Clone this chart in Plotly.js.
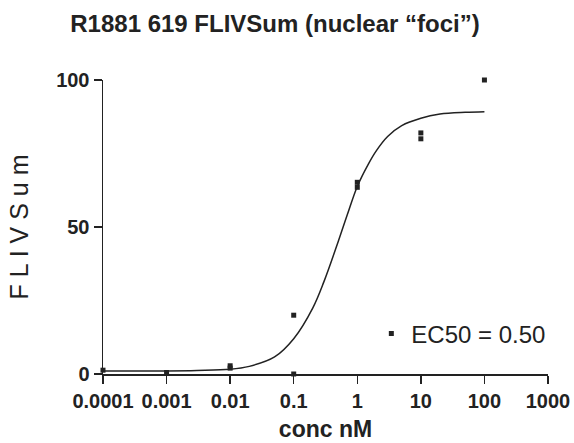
<!DOCTYPE html>
<html>
<head>
<meta charset="utf-8">
<script src="https://cdn.plot.ly/plotly-3.0.1.min.js"></script>
<style>html,body{margin:0;padding:0;background:#fff;}#chart{width:574px;height:443px;}</style>
</head>
<body>
<div id="chart"></div>
<script>
// measured data points
const concX = [0.0001, 0.001, 0.01, 0.01, 0.1, 0.1, 1, 1, 10, 10, 100];
const fliv  = [1.3, 0.5, 2.0, 2.8, 20, 0, 65.2, 63.5, 82, 80, 100];
// fitted curve
const curveX = [0.0001, 0.001, 0.003, 0.01, 0.02, 0.05, 0.1, 0.2, 0.3, 0.5, 0.7, 1, 1.5, 2, 3, 5, 10, 20, 50, 100];
const curveY = [1.0, 1.05, 1.2, 1.6, 2.6, 5.8, 12, 22.5, 31.5, 45, 54.3, 63.8, 71.5, 76, 80.8, 84.5, 87, 88.4, 89, 89.2];
const xTickVals = [0.0001, 0.001, 0.01, 0.1, 1, 10, 100, 1000];
const xTickText = ['0.0001', '0.001', '0.01', '0.1', '1', '10', '100', '1000'];
const yTickVals = [0, 50, 100];
const seriesName = 'EC50 = 0.50';

const ink = '#222';
const font = 'Liberation Sans, Arial, Helvetica, sans-serif';

const traces = [
  {
    x: curveX, y: curveY, type: 'scatter', mode: 'lines',
    line: {color: ink, width: 1.5, shape: 'spline', smoothing: 1},
    showlegend: false, hoverinfo: 'skip', cliponaxis: false
  },
  {
    x: concX, y: fliv, type: 'scatter', mode: 'markers',
    marker: {symbol: 'square', size: 5, color: ink},
    name: seriesName, cliponaxis: false
  }
];

const layout = {
  width: 574, height: 443,
  margin: {l: 103, r: 26, t: 80, b: 69},
  paper_bgcolor: '#fff', plot_bgcolor: '#fff',
  font: {family: font, color: ink},
  title: {
    text: '<b>R1881 619 FLIVSum (nuclear “foci”)</b>',
    font: {size: 24, family: font, color: ink},
    x: 275/574, xanchor: 'center', xref: 'container',
    y: 1 - 24/443, yanchor: 'middle', yref: 'container'
  },
  xaxis: {
    type: 'log', range: [-4, 3],
    tickvals: xTickVals, ticktext: xTickText,
    ticks: 'outside', ticklen: 8, tickwidth: 1.5, tickcolor: ink,
    showline: true, linecolor: ink, linewidth: 1.5,
    showgrid: false, zeroline: false,
    tickfont: {size: 20, family: font, color: ink, weight: 'bold'},
    title: {text: '<b>conc nM</b>', font: {size: 23, family: font, color: ink}, standoff: 10}
  },
  yaxis: {
    range: [0, 100],
    tickvals: yTickVals,
    ticks: 'outside', ticklen: 8, tickwidth: 1.5, tickcolor: ink,
    showline: true, linecolor: ink, linewidth: 1.5,
    showgrid: false, zeroline: false,
    tickfont: {size: 20, family: font, color: ink, weight: 'bold'},
    title: {text: 'F L I V S u m', font: {size: 25, family: font, color: ink}, standoff: 20}
  },
  showlegend: true,
  legend: {
    x: 0.603, y: 0.136, xanchor: 'left', yanchor: 'middle',
    bgcolor: 'rgba(0,0,0,0)', borderwidth: 0,
    font: {size: 24, family: font, color: ink}
  }
};

Plotly.newPlot('chart', traces, layout, {displayModeBar: false, staticPlot: true});
</script>
</body>
</html>
